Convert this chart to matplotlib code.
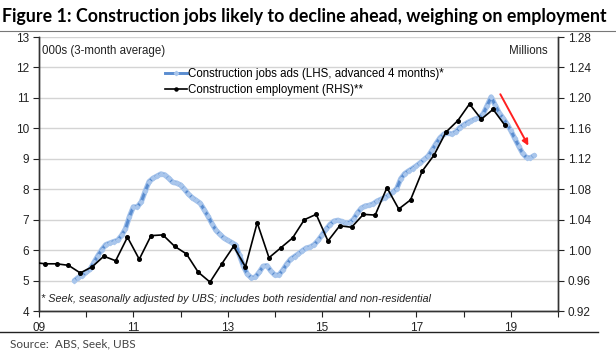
import numpy as np
import matplotlib
matplotlib.use("Agg")
import matplotlib.pyplot as plt
from matplotlib.lines import Line2D

# --- donnees ---
# offres d'emploi construction (milliers, moy. 3 mois), mensuel oct-2009 -> jul-2019
jobs_ads = [5.00, 5.10, 5.16, 5.27, 5.37, 5.60, 5.82, 6.02, 6.18, 6.23, 6.28, 6.32,
            6.48, 6.70, 7.10, 7.42, 7.42, 7.58, 7.93, 8.25, 8.36, 8.43, 8.50, 8.47,
            8.36, 8.23, 8.20, 8.14, 8.00, 7.84, 7.72, 7.63, 7.54, 7.33, 7.11, 6.87,
            6.65, 6.52, 6.40, 6.32, 6.25, 6.17, 5.83, 5.47, 5.21, 5.09, 5.11, 5.27,
            5.47, 5.49, 5.31, 5.18, 5.18, 5.34, 5.54, 5.70, 5.79, 5.88, 5.98, 6.07,
            6.10, 6.18, 6.32, 6.50, 6.68, 6.84, 6.95, 6.98, 6.94, 6.89, 6.90, 7.01,
            7.22, 7.38, 7.45, 7.47, 7.52, 7.61, 7.67, 7.72, 7.81, 7.90, 8.02, 8.34,
            8.51, 8.60, 8.68, 8.77, 8.87, 8.98, 9.09, 9.29, 9.50, 9.69, 9.81, 9.85,
            9.81, 9.88, 10.02, 10.11, 10.19, 10.25, 10.31, 10.35, 10.48, 10.75, 11.03, 10.77,
            10.52, 10.34, 10.15, 9.93, 9.67, 9.42, 9.18, 9.04, 9.03, 9.11]
jobs_start = 2009.75

# emploi construction (millions), trimestriel nov-2008 -> nov-2018
employment = [0.984, 0.982, 0.982, 0.980, 0.970, 0.978, 0.992, 0.986, 1.017, 0.988,
              1.019, 1.020, 1.005, 0.995, 0.971, 0.958, 0.982, 1.005, 0.978, 1.036,
              0.990, 1.003, 1.016, 1.040, 1.047, 1.012, 1.032, 1.030, 1.047, 1.046,
              1.082, 1.054, 1.066, 1.104, 1.125, 1.155, 1.170, 1.192, 1.172, 1.185,
              1.164]
emp_start = 2008.875

years = list(range(2009, 2021))
year_labels = ["09", "", "11", "", "13", "", "15", "", "17", "", "19", ""]

x_jobs = jobs_start + np.arange(len(jobs_ads)) / 12
x_emp = emp_start + np.arange(len(employment)) * 0.25

plt.rcParams['font.family'] = ['Liberation Sans', 'DejaVu Sans']

fig = plt.figure(figsize=(6.16, 3.61), dpi=100)
ax = fig.add_axes([0.0633, 0.1385, 0.8425, 0.759])
ax2 = ax.twinx()

# grille
for v in range(4, 14):
    ax.axhline(v, color="#d4d4d4", lw=1.0, zorder=0)

# offres d'emploi (gauche)
ax.plot(x_jobs, jobs_ads, color="#a4c2ea", lw=3.8, solid_capstyle="round", zorder=2)
ax.plot(x_jobs, jobs_ads, color="#5a8dd0", lw=2.1, marker="D", ms=2.2,
        mfc="#a9c6ec", mec="#a9c6ec", zorder=3)

# emploi (droite)
ax2.plot(x_emp, employment, color="black", lw=1.2, marker="o", ms=2.6, zorder=4)

ax.set_xlim(2009, 2020)
ax.set_ylim(4, 13)
ax2.set_ylim(0.92, 1.28)
ax.set_yticks(range(4, 14))
ax2.set_yticks(np.arange(0.92, 1.2801, 0.04))
ax2.set_yticklabels([f"{v:.2f}" for v in np.arange(0.92, 1.2801, 0.04)])
ax.set_xticks(years)
ax.set_xticklabels(year_labels)

for a in (ax, ax2):
    a.spines["top"].set_visible(False)
    for s in ("left", "right", "bottom"):
        a.spines[s].set_color("#333333")
        a.spines[s].set_linewidth(1.0)
    a.tick_params(labelsize=8.5, colors="#222222", length=4, width=0.8, pad=3)
ax.tick_params(axis="x", pad=4)

ax.text(0.006, 0.97, "000s (3-month average)", transform=ax.transAxes,
        fontsize=8.3, va="top", ha="left", color="#222222")
ax.text(0.98, 0.97, "Millions", transform=ax.transAxes,
        fontsize=8.3, va="top", ha="right", color="#222222")
ax.text(0.004, 0.045, "* Seek, seasonally adjusted by UBS; includes both residential and non-residential",
        transform=ax.transAxes, fontsize=7.8, style="italic", va="center", ha="left",
        color="#222222")

# fleche rouge
ax.annotate("", xy=(2019.4, 9.35), xytext=(2018.75, 11.2),
            arrowprops=dict(arrowstyle="-|>", color="#ff2020", lw=1.4,
                            mutation_scale=9), zorder=5)

handles = [Line2D([], [], color="#5a8dd0", lw=2.1, marker="D", ms=2.2,
                  mfc="#a9c6ec", mec="#a9c6ec"),
           Line2D([], [], color="black", lw=1.2, marker="o", ms=2.2)]
ax2.legend(handles, ["Construction jobs ads (LHS, advanced 4 months)*",
                     "Construction employment (RHS)**"],
           loc="upper left", bbox_to_anchor=(0.231, 0.908), frameon=False,
           fontsize=8.3, handlelength=1.9, handletextpad=0.15, borderpad=0,
           labelspacing=0.35)

# titre et source
fig.text(0.004, 0.953, "Figure 1: Construction jobs likely to decline ahead, weighing on employment",
         fontsize=12.8, fontweight="bold", family="Lato", va="center", ha="left", color="black")
fig.add_artist(Line2D([0.0, 1.0], [0.914, 0.914], color="#777777", lw=0.8))
fig.add_artist(Line2D([0.0, 0.97], [0.080, 0.080], color="#222222", lw=1.0))
fig.text(0.016, 0.048, "Source:  ABS, Seek, UBS", fontsize=8.5, family="Lato",
         va="center", ha="left", color="#444444")

fig.savefig("out.png", dpi=100)
